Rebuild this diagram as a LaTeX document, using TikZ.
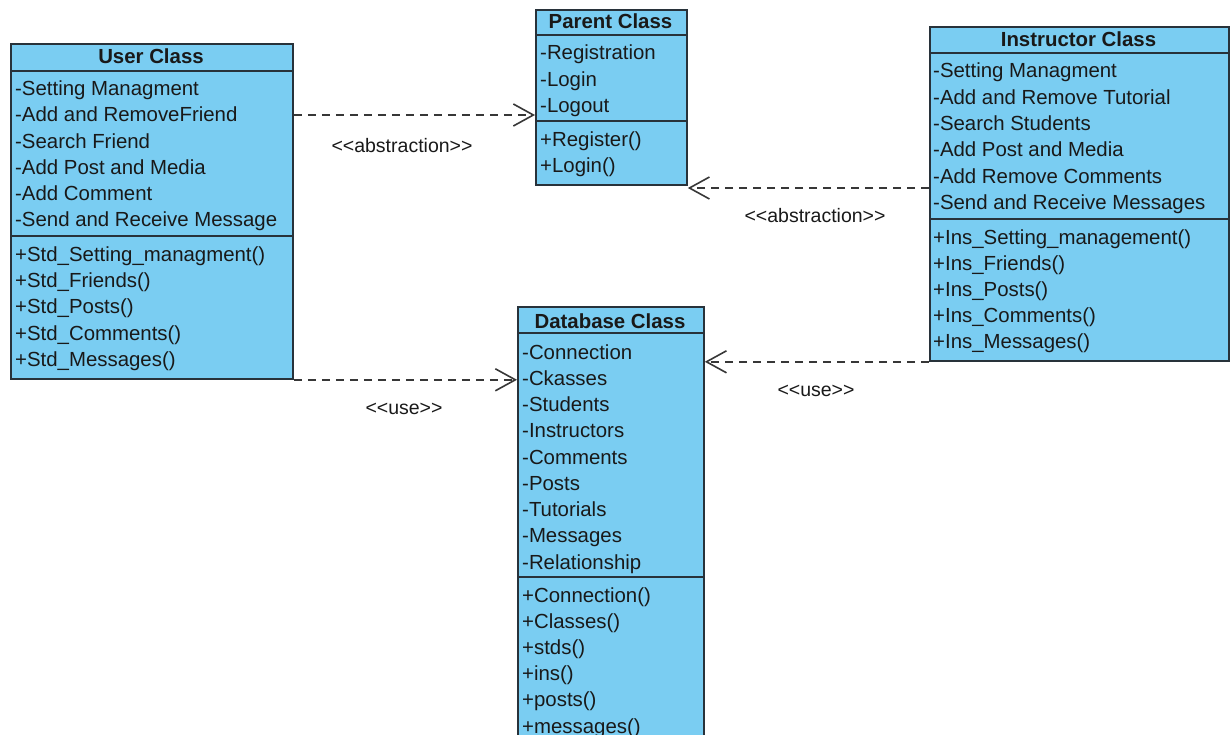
\documentclass[tikz,border=0pt]{standalone}
\usepackage{fontspec}
\setmainfont{Liberation Sans}
\usetikzlibrary{arrows.meta}
\definecolor{clsfill}{RGB}{122,205,242}
\definecolor{clsline}{RGB}{40,50,58}
\definecolor{txt}{RGB}{25,25,25}
\definecolor{depcol}{RGB}{55,55,55}
\begin{document}
\begin{tikzpicture}[x=1pt,y=-1pt,
  cls/.style={draw=clsline, fill=clsfill, line width=1.8pt, inner sep=0pt, anchor=north west},
  sepline/.style={draw=clsline, line width=1.8pt},
  attr/.style={anchor=base west, inner sep=0pt, text=txt, font=\fontsize{20.4}{24}\selectfont},
  head/.style={anchor=base, inner sep=0pt, text=txt, font=\fontsize{20.4}{24}\selectfont\bfseries},
  deparrow/.style={draw=depcol, line width=1.4pt, dash pattern=on 8pt off 6pt,
    -{Straight Barb[length=20pt,width=22pt,line width=1.6pt]}},
  lbl/.style={inner sep=0pt, text=txt, font=\fontsize{19.5}{21}\selectfont}]
\useasboundingbox (0,0) rectangle (1230,735);
\clip (0,0) rectangle (1230,735);

% ---------- User Class ----------
\node[cls, minimum width=282pt, minimum height=335pt] (user) at (10,43) {};
\draw[sepline] ([yshift=-28pt]user.north west) -- ([yshift=-28pt]user.north east);
\draw[sepline] ([yshift=-193pt]user.north west) -- ([yshift=-193pt]user.north east);
\node[head] (userh) at (151,64) {User Class};
\foreach \t [count=\i] in {{-Setting Managment},{-Add and RemoveFriend},{-Search Friend},{-Add Post and Media},{-Add Comment},{-Send and Receive Message}}
  \node[attr] (ua\i) at (15,{95.5+26.3*(\i-1)}) {\t};
\foreach \t [count=\i] in {{+Std\_Setting\_managment()},{+Std\_Friends()},{+Std\_Posts()},{+Std\_Comments()},{+Std\_Messages()}}
  \node[attr] (um\i) at (15,{261.5+26.2*(\i-1)}) {\t};

% ---------- Parent Class ----------
\node[cls, minimum width=151pt, minimum height=175pt] (parent) at (535,9) {};
\draw[sepline] ([yshift=-26pt]parent.north west) -- ([yshift=-26pt]parent.north east);
\draw[sepline] ([yshift=-112pt]parent.north west) -- ([yshift=-112pt]parent.north east);
\node[head] (parenth) at (610.5,29) {Parent Class};
\foreach \t [count=\i] in {{-Registration},{-Login},{-Logout}}
  \node[attr] (pa\i) at (540,{60+26.5*(\i-1)}) {\t};
\foreach \t [count=\i] in {{+Register()},{+Login()}}
  \node[attr] (pm\i) at (540,{147+26*(\i-1)}) {\t};

% ---------- Instructor Class ----------
\node[cls, minimum width=299pt, minimum height=334pt] (instr) at (929,26) {};
\draw[sepline] ([yshift=-27pt]instr.north west) -- ([yshift=-27pt]instr.north east);
\draw[sepline] ([yshift=-193pt]instr.north west) -- ([yshift=-193pt]instr.north east);
\node[head] (instrh) at (1078.5,47) {Instructor Class};
\foreach \t [count=\i] in {{-Setting Managment},{-Add and Remove Tutorial},{-Search Students},{-Add Post and Media},{-Add Remove Comments},{-Send and Receive Messages}}
  \node[attr] (ia\i) at (933,{78+26.3*(\i-1)}) {\t};
\foreach \t [count=\i] in {{+Ins\_Setting\_management()},{+Ins\_Friends()},{+Ins\_Posts()},{+Ins\_Comments()},{+Ins\_Messages()}}
  \node[attr] (im\i) at (933,{244.5+26*(\i-1)}) {\t};

% ---------- Database Class ----------
\node[cls, minimum width=186pt, minimum height=440pt] (db) at (517,306) {};
\draw[sepline] ([yshift=-27pt]db.north west) -- ([yshift=-27pt]db.north east);
\draw[sepline] ([yshift=-271pt]db.north west) -- ([yshift=-271pt]db.north east);
\node[head] (dbh) at (610,328) {Database Class};
\foreach \t [count=\i] in {{-Connection},{-Ckasses},{-Students},{-Instructors},{-Comments},{-Posts},{-Tutorials},{-Messages},{-Relationship}}
  \node[attr] (da\i) at (522,{359+26.25*(\i-1)}) {\t};
\foreach \t [count=\i] in {{+Connection()},{+Classes()},{+stds()},{+ins()},{+posts()},{+messages()}}
  \node[attr] (dm\i) at (522,{602+26.2*(\i-1)}) {\t};

% ---------- Dependencies ----------
\draw[deparrow] ([yshift=-72pt]user.north east) -- ([yshift=-72pt]user.north east -| parent.west);
\draw[deparrow] ([yshift=-162pt]instr.north west) -- ([yshift=-162pt]instr.north west -| parent.east);
\draw[deparrow] (user.south east) -- (user.south east -| db.west);
\draw[deparrow] (instr.south west) -- (instr.south west -| db.east);

\node[lbl] (l1) at (402,146) {<\kern0pt<abstraction>\kern0pt>};
\node[lbl] (l2) at (815,216) {<\kern0pt<abstraction>\kern0pt>};
\node[lbl] (l3) at (404,409) {<\kern0pt<use>\kern0pt>};
\node[lbl] (l4) at (816,391) {<\kern0pt<use>\kern0pt>};
\end{tikzpicture}
\end{document}
